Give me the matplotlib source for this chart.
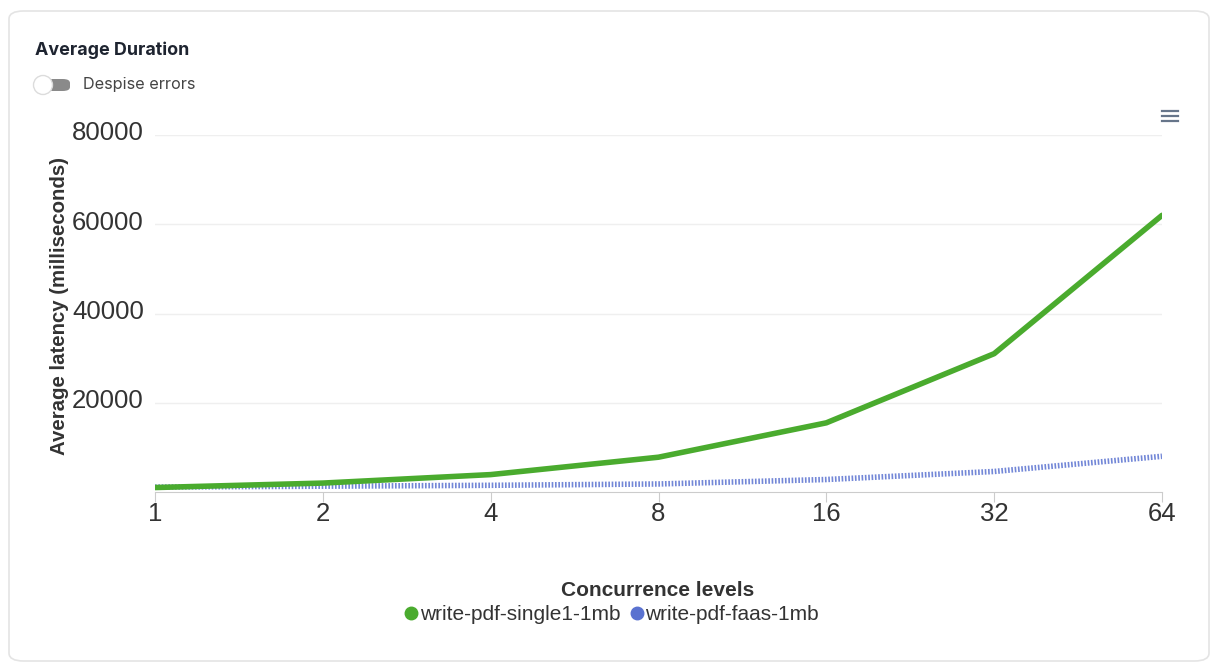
import matplotlib
matplotlib.use("Agg")
import matplotlib.pyplot as plt
import matplotlib.transforms as mtransforms
from matplotlib.patches import FancyBboxPatch, Ellipse
from matplotlib.lines import Line2D

W, H = 1212, 664

concurrency = [1, 2, 4, 8, 16, 32, 64]
single_latency = [1000, 2000, 3900, 7800, 15500, 31000, 62000]
faas_latency = [1100, 1300, 1500, 1800, 2800, 4600, 8000]
y_ticks = [20000, 40000, 60000, 80000]

GREEN = "#4aab2e"
BLUE = "#5a72d0"
TEXT = "#333333"


def fx(px):
    return px / W


def fy(py):
    return 1 - py / H


fig = plt.figure(figsize=(W / 100, H / 100), dpi=100)
fig.patch.set_facecolor("white")

# card outline, kept behind the axes
card = FancyBboxPatch((fx(9), fy(661)), fx(1200), 650 / H,
                      boxstyle="round,pad=0,rounding_size=0.012",
                      transform=fig.transFigure, facecolor="none",
                      edgecolor="#e4e4e4", linewidth=1.2, zorder=-5)
fig.patches.append(card)

fig.text(fx(35), fy(50), "Average Duration", fontsize=12.9, fontweight="bold",
         family="Inter", color="#1e2430", va="center", ha="left")

# toggle switch
pill = FancyBboxPatch((fx(40), fy(91)), fx(30), 12 / H,
                      boxstyle="round,pad=0,rounding_size=0.006",
                      transform=fig.transFigure, facecolor="#8a8a8a",
                      edgecolor="none", zorder=-4)
fig.patches.append(pill)
knob = Ellipse((fx(43), fy(85)), fx(19), 19 / H, transform=fig.transFigure,
               facecolor="white", edgecolor="#dcdcdc", linewidth=1, zorder=-3)
fig.patches.append(knob)
fig.text(fx(83), fy(85), "Despise errors", fontsize=11.7, family="Inter",
         color="#444444", va="center", ha="left")

# menu icon
for yy in (111, 116, 121):
    fig.add_artist(Line2D([fx(1162), fx(1178)], [fy(yy), fy(yy)],
                          transform=fig.transFigure, color="#66758a", lw=1.6))

ax = fig.add_axes([fx(155), fy(492), fx(1162 - 155), (492 - 135) / H])
ax.patch.set_alpha(0)
ax.set_xscale("log", base=2)
ax.set_xlim(1, 64)
ax.set_ylim(0, 80000)

ax.plot(concurrency, single_latency, color=GREEN, lw=4, solid_capstyle="round",
        zorder=3)
ax.plot(concurrency, faas_latency, color=BLUE, lw=4, linestyle=(0, (0.3, 0.3)),
        alpha=0.85, zorder=2)

ax.set_xticks(concurrency)
ax.set_xticklabels([str(c) for c in concurrency])
ax.minorticks_off()
ax.set_yticks(y_ticks)
ax.set_yticklabels([str(v) for v in y_ticks])
ax.grid(axis="y", color="#efefef", lw=1)
ax.set_axisbelow(True)

for side in ("top", "right", "left"):
    ax.spines[side].set_visible(False)
ax.spines["bottom"].set_color("#cccccc")
ax.tick_params(axis="x", length=7, color="#cccccc", pad=0, labelsize=18.5,
               labelcolor=TEXT)
ax.tick_params(axis="y", length=0, pad=8, labelsize=18.5, labelcolor=TEXT)
for lbl in ax.get_xticklabels() + ax.get_yticklabels():
    lbl.set_family("Liberation Sans")

# y labels sit a little above their grid lines
lift = mtransforms.ScaledTranslation(0, 4 / 100, fig.dpi_scale_trans)
for lbl in ax.get_yticklabels():
    lbl.set_transform(lbl.get_transform() + lift)

ax.set_ylabel("Average latency (milliseconds)", fontsize=14.7, fontweight="bold",
              family="Liberation Sans", color=TEXT)
ax.yaxis.set_label_coords(-0.085, 0.52)

fig.text(fx(658), fy(590), "Concurrence levels", fontsize=15, fontweight="bold",
         family="Liberation Sans", color=TEXT, ha="center", va="center")

handles = [
    Line2D([], [], marker="o", color="none", markerfacecolor=GREEN,
           markeredgecolor=GREEN, markersize=9, label="write-pdf-single1-1mb"),
    Line2D([], [], marker="o", color="none", markerfacecolor=BLUE,
           markeredgecolor=BLUE, markersize=9, label="write-pdf-faas-1mb"),
]
leg = fig.legend(handles=handles, loc="center", ncol=2, frameon=False,
                 bbox_to_anchor=(fx(612), fy(615)), handlelength=0.6,
                 handletextpad=0.1, columnspacing=0.5,
                 prop={"family": "Liberation Sans", "size": 15})
for t in leg.get_texts():
    t.set_color(TEXT)

fig.savefig("out.png", dpi=100, facecolor="white")
